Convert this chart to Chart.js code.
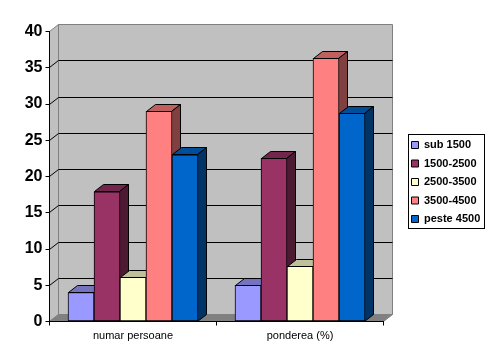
<!DOCTYPE html>
<html>
<head>
<meta charset="utf-8">
<script src="https://cdn.jsdelivr.net/npm/chart.js@4"></script>
<style>
  html, body { margin: 0; padding: 0; background: #ffffff; }
  canvas { display: block; }
</style>
</head>
<body>
<canvas id="chart" width="495" height="363"></canvas>
<script>
const categories = ["numar persoane", "ponderea (%)"];
const seriesNames = ["sub 1500", "1500-2500", "2500-3500", "3500-4500", "peste 4500"];
const sub1500 = [4, 5];
const from1500 = [17.9, 22.5];
const from2500 = [6.1, 7.6];
const from3500 = [29, 36.3];
const peste4500 = [23, 28.7];
const frontColors = ["#9999FF", "#993366", "#FFFFCC", "#FF8080", "#0066CC"];
const topColors = ["#7373BF", "#73264D", "#BFBF99", "#BF6060", "#004D99"];
const sideColors = ["#4D4D80", "#4D1A33", "#808066", "#804040", "#003366"];

// depth of the fake 3D box, in pixels
const depthX = 9;
const depthY = 7;

function polygon(ctx, points, fill, stroke) {
  ctx.beginPath();
  points.forEach((p, i) => i ? ctx.lineTo(p[0], p[1]) : ctx.moveTo(p[0], p[1]));
  ctx.closePath();
  ctx.fillStyle = fill;
  ctx.fill();
  if (stroke) {
    ctx.strokeStyle = stroke;
    ctx.lineWidth = 1;
    ctx.stroke();
  }
}

const snap = v => Math.round(v - 0.5) + 0.5;

const box3d = {
  id: "box3d",
  beforeLayout(chart) {
    // legend keeps its place on the right, the plot ends at a fixed x
    const legend = chart.legend;
    if (!legend._fitWrapped) {
      const fit = legend.fit;
      legend.fit = function() {
        fit.call(this);
        this.width = 111.5;
      };
      legend._fitWrapped = true;
    }
  },
  afterLayout(chart) {
    // the first swatch sits at left + padding, so the legend starts left of its frame
    const legend = chart.legend;
    legend.left = 404;
    legend.right = 494;
    legend.width = 90;
    legend.top = 132;
    legend.bottom = 240;
    legend.height = 108;
  },
  beforeDraw(chart) {
    const ctx = chart.ctx;
    const area = chart.chartArea;
    const y = chart.scales.y;
    const l = snap(area.left), r = snap(area.right), b = snap(area.bottom), t = snap(area.top);
    ctx.save();
    // walls and floor
    polygon(ctx, [[l + depthX, t - depthY], [r + depthX, t - depthY], [r + depthX, b - depthY], [l + depthX, b - depthY]], "#C0C0C0", "#808080");
    polygon(ctx, [[l, t], [l + depthX, t - depthY], [l + depthX, b - depthY], [l, b]], "#C0C0C0", "#808080");
    polygon(ctx, [[l, b], [l + depthX, b - depthY], [r + depthX, b - depthY], [r, b]], "#808080", "#808080");
    // grid lines on the back wall
    ctx.strokeStyle = "#000000";
    ctx.lineWidth = 1;
    y.ticks.forEach(tick => {
      if (tick.value === 0 || tick.value === 40) return;
      const py = snap(y.getPixelForValue(tick.value));
      ctx.beginPath();
      ctx.moveTo(l, py);
      ctx.lineTo(l + depthX, py - depthY);
      ctx.lineTo(r + depthX, py - depthY);
      ctx.stroke();
    });
    // legend frame
    ctx.fillStyle = "#ffffff";
    ctx.fillRect(408.5, 134.5, 76, 94);
    ctx.strokeRect(408.5, 134.5, 76, 94);
    ctx.restore();
  },
  beforeDatasetsDraw(chart) {
    // Chart.js paints the last dataset first; here the bars must overlap left to right,
    // each one's top and side going under its own front face
    const ctx = chart.ctx;
    chart.data.datasets.forEach((dataset, i) => {
      const meta = chart.getDatasetMeta(i);
      ctx.save();
      meta.data.forEach(bar => {
        const left = snap(bar.x - bar.width / 2);
        const right = snap(bar.x + bar.width / 2) - 1;
        const top = snap(bar.y);
        const base = snap(bar.base);
        polygon(ctx, [[left, top], [left + depthX, top - depthY], [right + depthX, top - depthY], [right, top]], topColors[i], "#000000");
        polygon(ctx, [[right, top], [right + depthX, top - depthY], [right + depthX, base - depthY], [right, base]], sideColors[i], "#000000");
      });
      ctx.restore();
      meta.controller.draw();
    });
  },
  beforeDatasetDraw() {
    return false;
  }
};

new Chart(document.getElementById("chart"), {
  type: "bar",
  data: {
    labels: categories,
    datasets: [sub1500, from1500, from2500, from3500, peste4500].map((values, i) => ({
      label: seriesNames[i],
      data: values,
      backgroundColor: frontColors[i],
      borderColor: "#000000",
      borderWidth: 1,
      borderSkipped: false,
      barThickness: 26
    }))
  },
  plugins: [box3d],
  options: {
    responsive: false,
    animation: false,
    devicePixelRatio: 1,
    layout: { padding: { top: 31.5, left: 0, right: 0, bottom: 0 } },
    plugins: {
      tooltip: { enabled: false },
      legend: {
        position: "right",
        align: "start",
        labels: {
          boxWidth: 7,
          boxHeight: 7,
          padding: 7.5,
          color: "#000000",
          font: { family: "'Liberation Sans', Arial, sans-serif", size: 11, weight: "bold" }
        }
      }
    },
    scales: {
      x: {
        afterFit(scale) { scale.height = 41.5; },
        border: { color: "#000000", width: 1 },
        grid: { drawOnChartArea: false, color: "#000000", tickLength: 4 },
        ticks: {
          color: "#000000",
          padding: 4,
          maxRotation: 0,
          font: { family: "'Liberation Sans', Arial, sans-serif", size: 11 }
        }
      },
      y: {
        min: 0,
        max: 40,
        afterFit(scale) { scale.width = 49.5; },
        border: { color: "#000000", width: 1 },
        grid: { drawOnChartArea: false, color: "#000000", tickLength: 4 },
        ticks: {
          stepSize: 5,
          color: "#000000",
          padding: 3,
          font: { family: "'Liberation Sans', Arial, sans-serif", size: 16, weight: "bold" }
        }
      }
    }
  }
});
</script>
</body>
</html>
